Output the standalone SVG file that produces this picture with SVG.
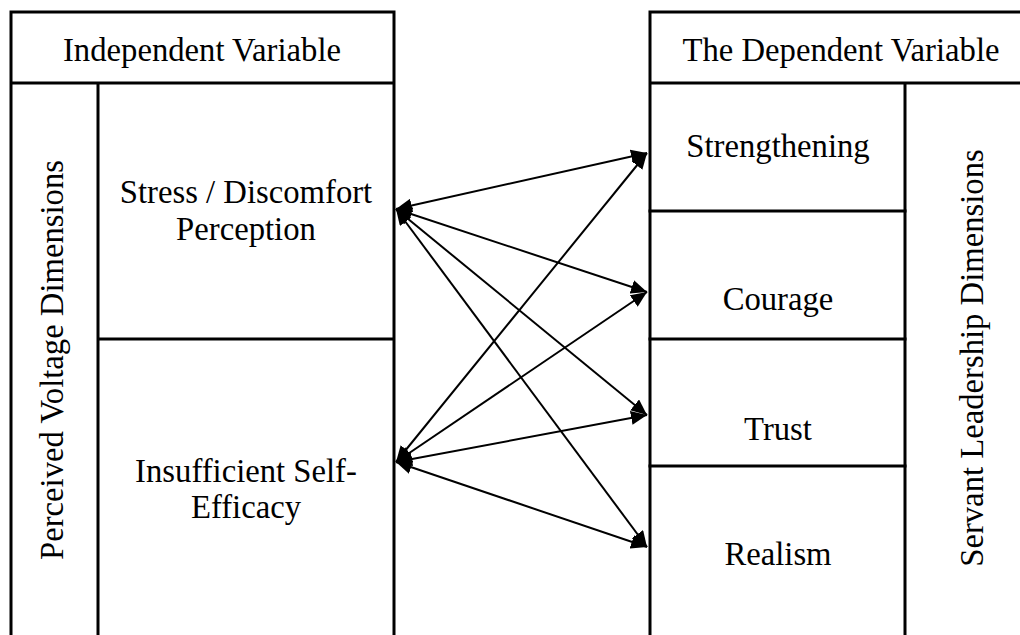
<svg xmlns="http://www.w3.org/2000/svg" width="1020" height="635" viewBox="0 0 1020 635">
<style>
.frame{stroke:#000;stroke-width:3;fill:none;stroke-linecap:square}
.t{font-family:"Liberation Serif","Times New Roman",serif;font-size:32.7px;fill:#000;text-anchor:middle}
.conn{stroke:#000;stroke-width:2;fill:none;marker-start:url(#ah);marker-end:url(#ah)}
</style>
<defs>
<marker id="ah" viewBox="0 0 16 14" refX="16" refY="7" markerWidth="16" markerHeight="14" markerUnits="userSpaceOnUse" orient="auto-start-reverse">
<path d="M0,0 L16,7 L0,14 z" fill="#000"/>
</marker>
</defs>
<rect width="1020" height="635" fill="#fff"/>
<g id="independent">
<path class="frame" d="M11,637 V12 H394 V637 M11,83 H394 M98,83 V637 M98,339 H394"/>
<text class="t" x="202" y="61">Independent Variable</text>
<text class="t" transform="translate(63,360) rotate(-90)">Perceived Voltage Dimensions</text>
</g>
<g id="stress">
<text class="t" x="246" y="203">Stress / Discomfort</text>
<text class="t" x="246" y="240">Perception</text>
</g>
<g id="selfefficacy">
<text class="t" x="246" y="482">Insufficient Self-</text>
<text class="t" x="246" y="518">Efficacy</text>
</g>
<g id="dependent">
<path class="frame" d="M650,637 V12 H1022 M650,83 H1022 M905,83 V637"/>
<text class="t" x="841" y="61">The Dependent Variable</text>
<text class="t" transform="translate(983,358) rotate(-90)">Servant Leadership Dimensions</text>
</g>
<g id="strengthening">
<text class="t" x="778" y="157">Strengthening</text>
<path class="frame" d="M650,211 H905"/>
</g>
<g id="courage">
<text class="t" x="778" y="310">Courage</text>
<path class="frame" d="M650,339 H905"/>
</g>
<g id="trust">
<text class="t" x="778" y="440">Trust</text>
<path class="frame" d="M650,466 H905"/>
</g>
<g id="realism">
<text class="t" x="778" y="565">Realism</text>
</g>
<g id="connectors">
<line class="conn" x1="396" y1="209" x2="647" y2="153"/>
<line class="conn" x1="396" y1="209" x2="647" y2="292"/>
<line class="conn" x1="396" y1="209" x2="647" y2="415"/>
<line class="conn" x1="396" y1="209" x2="647" y2="547"/>
<line class="conn" x1="396" y1="462" x2="647" y2="153"/>
<line class="conn" x1="396" y1="462" x2="647" y2="292"/>
<line class="conn" x1="396" y1="462" x2="647" y2="415"/>
<line class="conn" x1="396" y1="462" x2="647" y2="547"/>
</g>
</svg>
